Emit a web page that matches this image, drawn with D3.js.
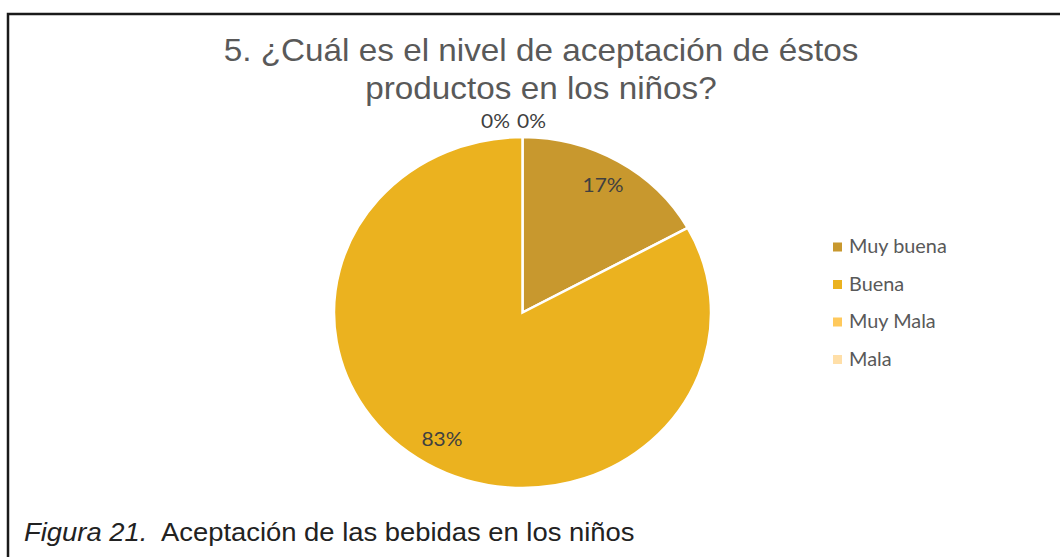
<!DOCTYPE html>
<html>
<head>
<meta charset="utf-8">
<script src="https://cdn.jsdelivr.net/npm/d3@7"></script>
<style>
  body { margin: 0; background: #fff; }
  svg { display: block; }
</style>
</head>
<body>
<svg width="1060" height="557"></svg>
<script>
// categories and their shares (percent)
var categories = ["Muy buena", "Buena", "Muy Mala", "Mala"];
var values = [17, 83, 0, 0];
var colors = ["#c8982e", "#ebb21f", "#ffc95c", "#ffdfa8"];
var titleLines = ["5. ¿Cuál es el nivel de aceptación de éstos", "productos en los niños?"];

var svg = d3.select("svg"),
    cx = 522.5, cy = 312.5,
    radius = 175.5,
    stretch = 188.5 / 175.5;   // the picture is a little wider than tall

function at(x, y) { return "translate(" + x + "," + y + ") scale(" + stretch + ",1)"; }

var data = categories.map(function(c, i) { return {name: c, value: values[i]}; });

// frame (only top and left edges show)
svg.append("path")
    .attr("d", "M8,557V14H1060")
    .attr("fill", "none")
    .attr("stroke", "#1a1a1a")
    .attr("stroke-width", 2.5);

// title
svg.append("g").selectAll("text")
  .data(titleLines)
  .enter().append("text")
    .attr("transform", function(d, i) { return at(541, 61 + i * 38); })
    .attr("text-anchor", "middle")
    .attr("font-family", "'Liberation Sans', Arial, sans-serif")
    .attr("font-size", 31)
    .attr("fill", "#595959")
    .text(function(d) { return d; });

var pie = d3.pie().sort(null).value(function(d) { return d.value; });
var arcs = pie(data);
var arc = d3.arc().innerRadius(0).outerRadius(radius);

var g = svg.append("g")
    .attr("transform", "translate(" + cx + "," + cy + ") scale(" + stretch + ",1)");

g.selectAll("path")
  .data(arcs.filter(function(d) { return d.value > 0; }))
  .enter().append("path")
    .attr("d", arc)
    .attr("fill", function(d) { return colors[d.index]; })
    .attr("stroke", "#fff")
    .attr("stroke-width", 2.5)
    .attr("vector-effect", "non-scaling-stroke");

// data labels
var fmt = function(v) { return Math.round(v) + "%"; };
var total = d3.sum(values);
var labelArc = d3.arc().innerRadius(radius * 0.84).outerRadius(radius * 0.84);
var zeroCount = 0;
svg.append("g").selectAll("text")
  .data(arcs)
  .enter().append("text")
    .attr("transform", function(d) {
      if (d.value > 0) {
        var c = labelArc.centroid(d);
        return at(cx + c[0] * stretch, cy + c[1]);
      }
      // empty slices sit at the top, labels placed just outside
      var x = cx - 27 + zeroCount * 36;
      zeroCount++;
      return at(x, cy - radius - 16);
    })
    .attr("dy", "0.35em")
    .attr("text-anchor", "middle")
    .attr("font-family", "Lato, 'Open Sans', sans-serif")
    .attr("font-size", 19.5)
    .attr("fill", "#404040")
    .text(function(d) { return fmt(d.value / total * 100); });

// legend
var legend = svg.append("g").selectAll("g")
  .data(data)
  .enter().append("g")
    .attr("transform", function(d, i) { return "translate(833," + (247 + i * 37.5) + ")"; });

legend.append("rect")
    .attr("x", 0).attr("y", -4.5)
    .attr("width", 9).attr("height", 9)
    .attr("fill", function(d, i) { return colors[i]; });

legend.append("text")
    .attr("transform", at(16, 0))
    .attr("dy", "0.35em")
    .attr("font-family", "Lato, 'Open Sans', sans-serif")
    .attr("font-size", 18.5)
    .attr("fill", "#595959")
    .text(function(d) { return d.name; });

// caption under the chart
var cap = svg.append("text")
    .attr("transform", at(24, 541))
    .attr("font-family", "'Liberation Sans', Arial, sans-serif")
    .attr("font-size", 25.5)
    .attr("fill", "#222");
cap.append("tspan").attr("font-style", "italic").text("Figura 21.");
cap.append("tspan").text("\u00a0 Aceptación de las bebidas en los niños");
</script>
</body>
</html>
